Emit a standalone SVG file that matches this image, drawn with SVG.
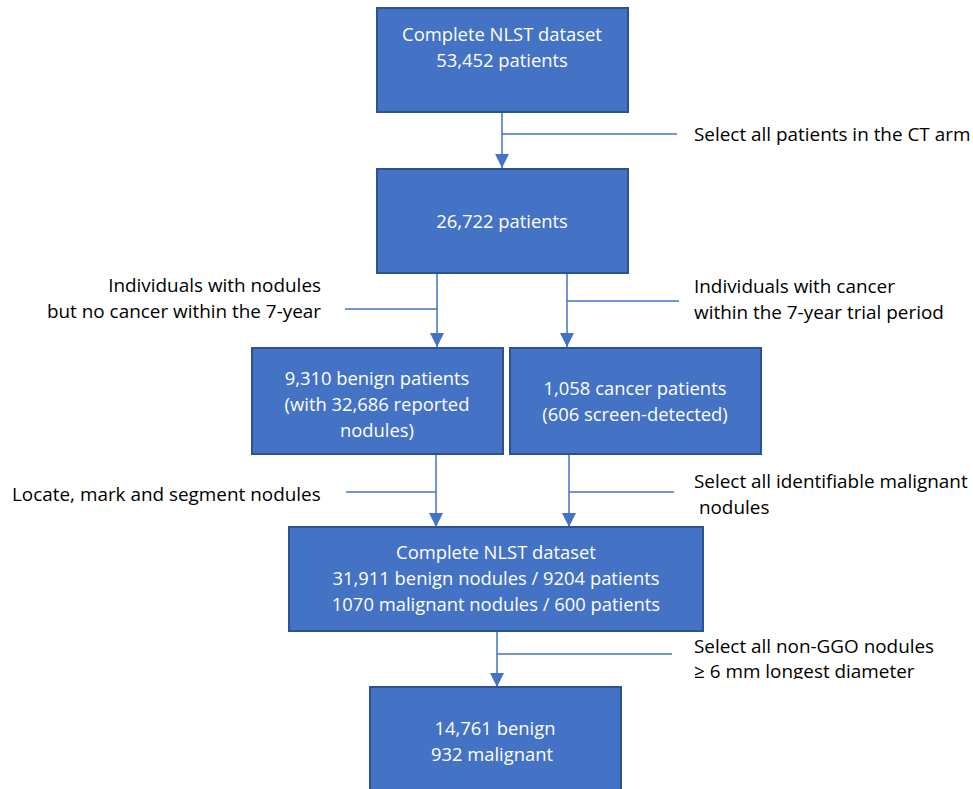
<svg xmlns="http://www.w3.org/2000/svg" width="973" height="789" viewBox="0 0 973 789">
<style>
.box{fill:#4472C4;stroke:#2F528F;stroke-width:2}
.bt{font-family:"Open Sans","Liberation Sans",sans-serif;font-size:18.4px;fill:#fff;text-anchor:middle}
.lt{font-family:"Open Sans","Liberation Sans",sans-serif;font-size:18.9px;fill:#000;white-space:pre}
.ln{stroke:#4472C4;stroke-width:1.5;fill:none}
</style>
<defs>
<marker id="ah" markerUnits="userSpaceOnUse" markerWidth="16" markerHeight="16" refX="14" refY="7" orient="auto">
<path d="M0,0 L14,7 L0,14 Z" fill="#4472C4"/>
</marker>
<clipPath id="cut"><rect x="0" y="0" width="973" height="679"/></clipPath>
</defs>
<rect width="973" height="789" fill="#fff"/>
<g id="connectors">
<line class="ln" x1="502" y1="112" x2="502" y2="168" marker-end="url(#ah)"/>
<line class="ln" x1="502" y1="134" x2="677" y2="134"/>
<line class="ln" x1="437" y1="273" x2="437" y2="347" marker-end="url(#ah)"/>
<line class="ln" x1="345" y1="309" x2="437" y2="309"/>
<line class="ln" x1="567" y1="273" x2="567" y2="347" marker-end="url(#ah)"/>
<line class="ln" x1="567" y1="301" x2="679" y2="301"/>
<line class="ln" x1="436" y1="454" x2="436" y2="527" marker-end="url(#ah)"/>
<line class="ln" x1="346" y1="492" x2="436" y2="492"/>
<line class="ln" x1="569" y1="454" x2="569" y2="527" marker-end="url(#ah)"/>
<line class="ln" x1="569" y1="492" x2="674" y2="492"/>
<line class="ln" x1="497" y1="632" x2="497" y2="687" marker-end="url(#ah)"/>
<line class="ln" x1="497" y1="654" x2="672" y2="654"/>
</g>
<g id="n1"><rect class="box" x="377" y="8" width="251" height="104"/>
<text class="bt" x="502" y="41">Complete NLST dataset</text>
<text class="bt" x="502" y="67">53,452 patients</text></g>
<g id="n2"><rect class="box" x="377" y="169" width="251" height="104"/>
<text class="bt" x="502" y="228">26,722 patients</text></g>
<g id="n3"><rect class="box" x="252" y="348" width="251" height="106"/>
<text class="bt" x="377" y="385">9,310 benign patients</text>
<text class="bt" x="377" y="411">(with 32,686 reported</text>
<text class="bt" x="377" y="437">nodules)</text></g>
<g id="n4"><rect class="box" x="510" y="348" width="251" height="106"/>
<text class="bt" x="635" y="395">1,058 cancer patients</text>
<text class="bt" x="635" y="421">(606 screen-detected)</text></g>
<g id="n5"><rect class="box" x="289" y="527" width="414" height="104"/>
<text class="bt" x="496" y="559">Complete NLST dataset</text>
<text class="bt" x="496" y="585">31,911 benign nodules / 9204 patients</text>
<text class="bt" x="496" y="611">1070 malignant nodules / 600 patients</text></g>
<g id="n6"><rect class="box" x="370" y="687" width="251" height="120"/>
<text class="bt" x="495" y="735">14,761 benign</text>
<text class="bt" x="492" y="761">932 malignant</text></g>
<g id="labels">
<text class="lt" x="694" y="141">Select all patients in the CT arm</text>
<text class="lt" x="321" y="292" text-anchor="end">Individuals with nodules</text>
<text class="lt" x="321" y="318" text-anchor="end">but no cancer within the 7-year</text>
<text class="lt" x="694" y="293">Individuals with cancer</text>
<text class="lt" x="694" y="319">within the 7-year trial period</text>
<text class="lt" x="12" y="501">Locate, mark and segment nodules</text>
<text class="lt" x="694" y="488">Select all identifiable malignant</text>
<text class="lt" x="694" y="514" xml:space="preserve"> nodules</text>
<text class="lt" x="694" y="653">Select all non-GGO nodules</text>
<text class="lt" x="694" y="678" clip-path="url(#cut)">≥ 6 mm longest diameter</text>
</g>
</svg>
